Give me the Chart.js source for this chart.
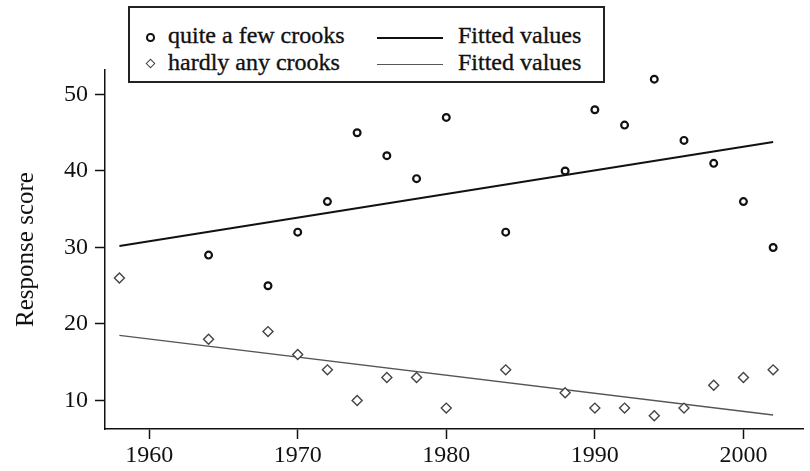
<!DOCTYPE html>
<html>
<head>
<meta charset="utf-8">
<script src="https://cdn.jsdelivr.net/npm/chart.js@4.4.1/dist/chart.umd.min.js"></script>
<style>
  body { margin: 0; background: #fff; }
  #wrap { position: relative; width: 810px; height: 471px; }
  .leg { position: absolute; font-family: "Liberation Serif", "Times New Roman", serif; font-size: 24px; line-height: 28px; color: #111; white-space: nowrap; -webkit-text-stroke: 0.35px #111; }
  #legBox { position: absolute; left: 128px; top: 6px; width: 477px; height: 77px; border: 2px solid #222; box-sizing: border-box; background: #fff; }
  .mk { position: absolute; box-sizing: border-box; }
</style>
</head>
<body>
<div id="wrap">
  <canvas id="grafico"></canvas>
  <div id="legBox"></div>
  <div class="mk" style="left:146px;top:33px;width:8.5px;height:8.5px;border:2px solid #111;border-radius:50%;"></div>
  <div class="leg" style="left:168px;top:21px;">quite a few crooks</div>
  <div class="mk" style="left:377px;top:37px;width:66px;height:2px;background:#111;"></div>
  <div class="leg" style="left:458px;top:21px;">Fitted values</div>
  <div class="mk" style="left:146.5px;top:59.5px;width:7px;height:7px;border:1.3px solid #444;transform:rotate(45deg);"></div>
  <div class="leg" style="left:168px;top:48px;">hardly any crooks</div>
  <div class="mk" style="left:377px;top:64px;width:66px;height:1.3px;background:#555;"></div>
  <div class="leg" style="left:458px;top:48px;">Fitted values</div>
</div>
<script>
// survey years and scores
const quiteYears = [1964, 1968, 1970, 1972, 1974, 1976, 1978, 1980, 1984, 1988, 1990, 1992, 1994, 1996, 1998, 2000, 2002];
const quiteScores = [29, 25, 32, 36, 45, 42, 39, 47, 32, 40, 48, 46, 52, 44, 41, 36, 30];

const hardlyYears = [1958, 1964, 1968, 1970, 1972, 1974, 1976, 1978, 1980, 1984, 1988, 1990, 1992, 1994, 1996, 1998, 2000, 2002];
const hardlyScores = [26, 18, 19, 16, 14, 10, 13, 13, 9, 14, 11, 9, 9, 8, 9, 12, 13, 14];

// fitted lines, endpoints only
const fitYears = [1958, 2002];
const fitQuite = [30.2, 43.8];
const fitHardly = [18.5, 8.1];

const xTicks = [1960, 1970, 1980, 1990, 2000];
const yTicks = [10, 20, 30, 40, 50];

const fontSerif = { family: '"Liberation Serif", "Times New Roman", serif', size: 24 };

function toPoints(xs, ys) {
    return xs.map((x, i) => ({ x: x, y: ys[i] }));
}

const datasets = [
    {
        label: 'quite a few crooks',
        data: toPoints(quiteYears, quiteScores),
        pointStyle: 'circle',
        pointRadius: 3.4,
        borderWidth: 2.2,
        borderColor: '#111',
        backgroundColor: '#fff',
        order: 1
    },
    {
        label: 'hardly any crooks',
        data: toPoints(hardlyYears, hardlyScores),
        pointStyle: 'rectRot',
        pointRadius: 5,
        borderWidth: 1.4,
        borderColor: '#444',
        backgroundColor: '#fff',
        order: 1
    },
    {
        label: 'Fitted values',
        data: toPoints(fitYears, fitQuite),
        showLine: true,
        pointRadius: 0,
        borderWidth: 2,
        borderColor: '#111',
        order: 2
    },
    {
        label: 'Fitted values ',
        data: toPoints(fitYears, fitHardly),
        showLine: true,
        pointRadius: 0,
        borderWidth: 1.3,
        borderColor: '#555',
        order: 2
    }
];

new Chart(document.getElementById('grafico'), {
    type: 'scatter',
    data: { datasets: datasets },
    options: {
        responsive: true,
        maintainAspectRatio: false,
        animation: false,
        layout: { padding: { top: 70, left: 0, right: 0, bottom: 0 } },
        plugins: {
            legend: { display: false },
            tooltip: { enabled: false }
        },
        scales: {
            x: {
                type: 'linear',
                min: 1957.03,
                max: 2004.05,
                afterBuildTicks: function(scale) {
                    scale.ticks = xTicks.map(v => ({ value: v }));
                },
                afterFit: function(scale) { scale.height = 42; },
                border: { color: '#111', width: 1.5 },
                grid: { drawOnChartArea: false, tickLength: 10, tickColor: '#111', tickWidth: 1.5 },
                ticks: { color: '#111', font: fontSerif, padding: 2, maxRotation: 0, callback: v => String(v) }
            },
            y: {
                type: 'linear',
                min: 6.27,
                max: 53.2,
                afterBuildTicks: function(scale) {
                    scale.ticks = yTicks.map(v => ({ value: v }));
                },
                afterFit: function(scale) { scale.width = 105; },
                border: { color: '#111', width: 1.5 },
                grid: { drawOnChartArea: false, tickLength: 10, tickColor: '#111', tickWidth: 1.5 },
                ticks: { color: '#111', font: fontSerif, padding: 7, callback: v => String(v) },
                title: {
                    display: true,
                    text: 'Response score',
                    color: '#111',
                    font: { family: fontSerif.family, size: 25 },
                    padding: { top: 11, bottom: 0 }
                }
            }
        }
    }
});
</script>
</body>
</html>
